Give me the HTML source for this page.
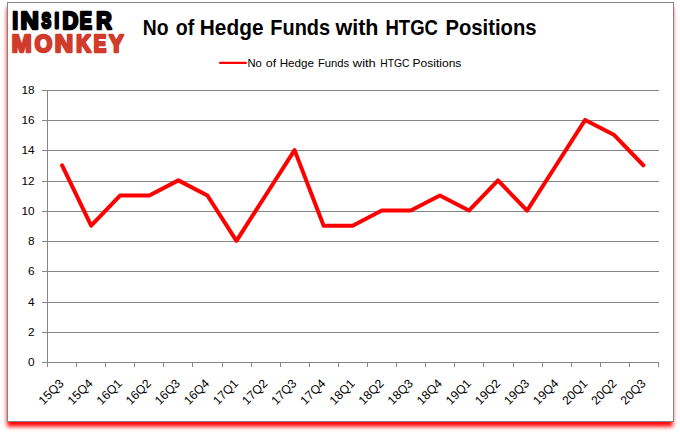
<!DOCTYPE html>
<html><head><meta charset="utf-8"><style>
html,body{margin:0;padding:0;background:#fff;}
body{width:680px;height:433px;overflow:hidden;position:relative;}
svg{position:absolute;left:0;top:0;}
.g{stroke:#868686;stroke-width:1;fill:none;shape-rendering:crispEdges;}
.yl{font-family:"Liberation Sans",sans-serif;font-size:11.8px;text-anchor:end;fill:#000;}
.xl{font-family:"Liberation Sans",sans-serif;font-size:12.2px;text-anchor:end;fill:#000;}
.d{stroke:#f00;stroke-width:4;fill:none;stroke-linejoin:round;stroke-linecap:round;}
.t{font-family:"Liberation Sans",sans-serif;font-weight:bold;font-size:21.8px;fill:#000;}
.lg{font-family:"Liberation Sans",sans-serif;font-size:10.5px;fill:#000;}
.lg2{font-family:"Liberation Sans",sans-serif;font-weight:bold;font-size:2048px;}
</style></head><body>
<svg width="680" height="433" viewBox="0 0 680 433">
<defs><filter id="sh" x="-5%" y="-5%" width="110%" height="110%"><feGaussianBlur stdDeviation="2"/></filter></defs>
<rect x="7.0" y="7.3" width="665.80" height="419.30" fill="#f00" filter="url(#sh)"/>
<rect x="7.5" y="2.5" width="666" height="419" fill="#fff" stroke="#858585"/>
<text transform="matrix(0.00956 0 0 0.01131 12.419 28.694)" fill="#000" stroke="#000" stroke-width="230.0" stroke-linejoin="round" class="lg2">I</text>
<text transform="matrix(0.01239 0 0 0.01131 20.606 28.694)" fill="#000" stroke="#000" stroke-width="202.5" stroke-linejoin="round" class="lg2">N</text>
<text transform="matrix(0.00704 0 0 0.01045 41.416 28.011)" fill="#000" stroke="#000" stroke-width="274.4" stroke-linejoin="round" class="lg2">S</text>
<text transform="matrix(0.00802 0 0 0.01120 54.530 27.812)" fill="#000" stroke="#000" stroke-width="249.8" stroke-linejoin="round" class="lg2">I</text>
<text transform="matrix(0.01064 0 0 0.01131 62.445 28.694)" fill="#000" stroke="#000" stroke-width="218.6" stroke-linejoin="round" class="lg2">D</text>
<text transform="matrix(0.00885 0 0 0.01131 79.868 28.694)" fill="#000" stroke="#000" stroke-width="238.1" stroke-linejoin="round" class="lg2">E</text>
<text transform="matrix(0.01044 0 0 0.01131 96.298 28.694)" fill="#000" stroke="#000" stroke-width="220.7" stroke-linejoin="round" class="lg2">R</text>
<text transform="matrix(0.01161 0 0 0.01150 11.835 51.800)" fill="#d13b2b" stroke="#d13b2b" stroke-width="207.7" stroke-linejoin="round" class="lg2">M</text>
<text transform="matrix(0.01095 0 0 0.01138 34.739 51.695)" fill="#d13b2b" stroke="#d13b2b" stroke-width="215.0" stroke-linejoin="round" class="lg2">O</text>
<text transform="matrix(0.01239 0 0 0.01150 54.633 51.800)" fill="#d13b2b" stroke="#d13b2b" stroke-width="200.9" stroke-linejoin="round" class="lg2">N</text>
<text transform="matrix(0.00994 0 0 0.01150 76.235 51.800)" fill="#d13b2b" stroke="#d13b2b" stroke-width="223.9" stroke-linejoin="round" class="lg2">K</text>
<text transform="matrix(0.00912 0 0 0.01150 93.645 51.800)" fill="#d13b2b" stroke="#d13b2b" stroke-width="232.8" stroke-linejoin="round" class="lg2">E</text>
<text transform="matrix(0.01066 0 0 0.01150 109.109 51.800)" fill="#d13b2b" stroke="#d13b2b" stroke-width="216.7" stroke-linejoin="round" class="lg2">Y</text>
<text x="142.80" y="35" class="t" textLength="25.81" lengthAdjust="spacingAndGlyphs">No</text>
<text x="175.80" y="35" class="t" textLength="18.43" lengthAdjust="spacingAndGlyphs">of</text>
<text x="199.80" y="35" class="t" textLength="63.71" lengthAdjust="spacingAndGlyphs">Hedge</text>
<text x="270.30" y="35" class="t" textLength="59.85" lengthAdjust="spacingAndGlyphs">Funds</text>
<text x="335.40" y="35" class="t" textLength="43.10" lengthAdjust="spacingAndGlyphs">with</text>
<text x="385.50" y="35" class="t" textLength="52.46" lengthAdjust="spacingAndGlyphs">HTGC</text>
<text x="445.50" y="35" class="t" textLength="90.98" lengthAdjust="spacingAndGlyphs">Positions</text>
<line x1="220.1" y1="62.9" x2="245.9" y2="62.9" stroke="#f00" stroke-width="2.2" stroke-linecap="round"/>
<text x="247.50" y="67" class="lg" textLength="14.37" lengthAdjust="spacingAndGlyphs">No</text>
<text x="265.80" y="67" class="lg" textLength="10.41" lengthAdjust="spacingAndGlyphs">of</text>
<text x="279.70" y="67" class="lg" textLength="34.27" lengthAdjust="spacingAndGlyphs">Hedge</text>
<text x="318.00" y="67" class="lg" textLength="31.22" lengthAdjust="spacingAndGlyphs">Funds</text>
<text x="352.80" y="67" class="lg" textLength="23.01" lengthAdjust="spacingAndGlyphs">with</text>
<text x="380.30" y="67" class="lg" textLength="29.12" lengthAdjust="spacingAndGlyphs">HTGC</text>
<text x="412.50" y="67" class="lg" textLength="48.88" lengthAdjust="spacingAndGlyphs">Positions</text>
<line x1="42" y1="332.5" x2="659" y2="332.5" class="g"/>
<line x1="42" y1="302.5" x2="659" y2="302.5" class="g"/>
<line x1="42" y1="271.5" x2="659" y2="271.5" class="g"/>
<line x1="42" y1="241.5" x2="659" y2="241.5" class="g"/>
<line x1="42" y1="211.5" x2="659" y2="211.5" class="g"/>
<line x1="42" y1="181.5" x2="659" y2="181.5" class="g"/>
<line x1="42" y1="150.5" x2="659" y2="150.5" class="g"/>
<line x1="42" y1="120.5" x2="659" y2="120.5" class="g"/>
<line x1="42" y1="90.5" x2="659" y2="90.5" class="g"/>
<line x1="42" y1="362.5" x2="659" y2="362.5" class="g"/>
<line x1="47.5" y1="90" x2="47.5" y2="367" class="g"/>
<line x1="47.5" y1="362" x2="47.5" y2="367" class="g"/>
<line x1="76.5" y1="362" x2="76.5" y2="367" class="g"/>
<line x1="105.5" y1="362" x2="105.5" y2="367" class="g"/>
<line x1="134.5" y1="362" x2="134.5" y2="367" class="g"/>
<line x1="163.5" y1="362" x2="163.5" y2="367" class="g"/>
<line x1="192.5" y1="362" x2="192.5" y2="367" class="g"/>
<line x1="222.5" y1="362" x2="222.5" y2="367" class="g"/>
<line x1="251.5" y1="362" x2="251.5" y2="367" class="g"/>
<line x1="280.5" y1="362" x2="280.5" y2="367" class="g"/>
<line x1="309.5" y1="362" x2="309.5" y2="367" class="g"/>
<line x1="338.5" y1="362" x2="338.5" y2="367" class="g"/>
<line x1="367.5" y1="362" x2="367.5" y2="367" class="g"/>
<line x1="396.5" y1="362" x2="396.5" y2="367" class="g"/>
<line x1="425.5" y1="362" x2="425.5" y2="367" class="g"/>
<line x1="454.5" y1="362" x2="454.5" y2="367" class="g"/>
<line x1="483.5" y1="362" x2="483.5" y2="367" class="g"/>
<line x1="513.5" y1="362" x2="513.5" y2="367" class="g"/>
<line x1="542.5" y1="362" x2="542.5" y2="367" class="g"/>
<line x1="571.5" y1="362" x2="571.5" y2="367" class="g"/>
<line x1="600.5" y1="362" x2="600.5" y2="367" class="g"/>
<line x1="629.5" y1="362" x2="629.5" y2="367" class="g"/>
<line x1="658.5" y1="362" x2="658.5" y2="367" class="g"/>
<text x="34.5" y="365.9" class="yl">0</text>
<text x="34.5" y="335.9" class="yl">2</text>
<text x="34.5" y="305.9" class="yl">4</text>
<text x="34.5" y="274.9" class="yl">6</text>
<text x="34.5" y="244.9" class="yl">8</text>
<text x="34.5" y="214.9" class="yl">10</text>
<text x="34.5" y="184.9" class="yl">12</text>
<text x="34.5" y="153.9" class="yl">14</text>
<text x="34.5" y="123.9" class="yl">16</text>
<text x="34.5" y="93.9" class="yl">18</text>
<text transform="translate(64.5,384.3) rotate(-45)" class="xl">15Q3</text>
<text transform="translate(93.6,384.3) rotate(-45)" class="xl">15Q4</text>
<text transform="translate(122.7,384.3) rotate(-45)" class="xl">16Q1</text>
<text transform="translate(151.8,384.3) rotate(-45)" class="xl">16Q2</text>
<text transform="translate(180.9,384.3) rotate(-45)" class="xl">16Q3</text>
<text transform="translate(210.0,384.3) rotate(-45)" class="xl">16Q4</text>
<text transform="translate(239.1,384.3) rotate(-45)" class="xl">17Q1</text>
<text transform="translate(268.2,384.3) rotate(-45)" class="xl">17Q2</text>
<text transform="translate(297.3,384.3) rotate(-45)" class="xl">17Q3</text>
<text transform="translate(326.4,384.3) rotate(-45)" class="xl">17Q4</text>
<text transform="translate(355.5,384.3) rotate(-45)" class="xl">18Q1</text>
<text transform="translate(384.6,384.3) rotate(-45)" class="xl">18Q2</text>
<text transform="translate(413.7,384.3) rotate(-45)" class="xl">18Q3</text>
<text transform="translate(442.8,384.3) rotate(-45)" class="xl">18Q4</text>
<text transform="translate(471.9,384.3) rotate(-45)" class="xl">19Q1</text>
<text transform="translate(501.0,384.3) rotate(-45)" class="xl">19Q2</text>
<text transform="translate(530.1,384.3) rotate(-45)" class="xl">19Q3</text>
<text transform="translate(559.2,384.3) rotate(-45)" class="xl">19Q4</text>
<text transform="translate(588.3,384.3) rotate(-45)" class="xl">20Q1</text>
<text transform="translate(617.4,384.3) rotate(-45)" class="xl">20Q2</text>
<text transform="translate(646.5,384.3) rotate(-45)" class="xl">20Q3</text>
<polyline points="62.10,165.26 91.16,225.70 120.22,195.48 149.28,195.48 178.34,180.37 207.40,195.48 236.46,240.81 265.52,195.48 294.58,150.14 323.64,225.70 352.70,225.70 381.76,210.59 410.82,210.59 439.88,195.48 468.94,210.59 498.00,180.37 527.06,210.59 556.12,165.26 585.18,119.92 614.24,135.03 643.30,165.26" class="d"/>
</svg>
</body></html>
